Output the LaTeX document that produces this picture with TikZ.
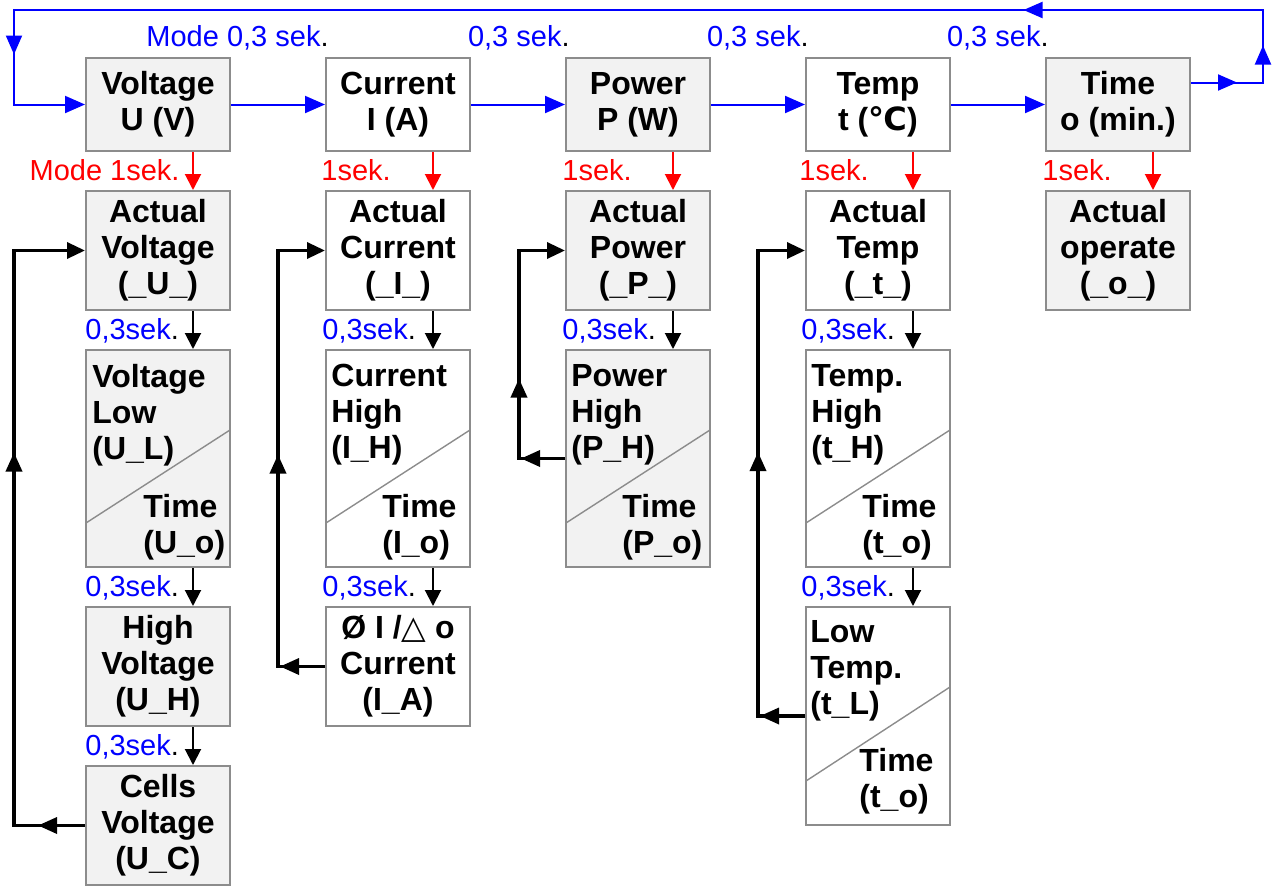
\documentclass[tikz,border=0pt]{standalone}
\usepackage{fontspec}
\setmainfont{Liberation Sans}
\newfontfamily\trifont{DejaVu Sans}
\usetikzlibrary{arrows.meta,positioning,decorations.markings}
\definecolor{boxgray}{HTML}{F2F2F2}
\definecolor{edgegray}{HTML}{8C8C8C}

\begin{document}
\begin{tikzpicture}[x=0.5pt, y=-0.5pt, node distance=19pt and 47pt,
  every node/.style={font=\fontsize{16}{18}\selectfont\bfseries},
  box/.style={draw=edgegray, line width=1pt, align=center, minimum width=72pt, inner sep=2pt},
  grey/.style={fill=boxgray},
  topbox/.style={box, minimum height=46.5pt},
  actbox/.style={box, minimum height=59.5pt},
  splitbox/.style={box, minimum height=#1, path picture={
      \draw[edgegray, line width=0.7pt] ([yshift=22pt]path picture bounding box.south west)
        -- ([yshift=-40pt]path picture bounding box.north east);}},
  splitbox/.default=108.5pt,
  upper/.style={anchor=north west, align=left, inner sep=0pt},
  lbl/.style={font=\fontsize{14.5}{16}\selectfont, inner sep=0pt},
  bluelbl/.style={lbl, text=blue},
  redlbl/.style={lbl, text=red},
  bluearr/.style={blue, line width=1pt, -{Triangle[length=10pt,width=8.5pt]}},
  redarr/.style={red, line width=1pt, -{Triangle[length=8pt,width=8pt]}},
  downarr/.style={black, line width=1pt, -{Triangle[length=8pt,width=8pt]}},
  fb/.style={black, line width=1.7pt, -{Triangle[length=9pt,width=8pt]}},
  tipat/.style={postaction={decorate, decoration={markings,
      mark=at position #1 with {\arrow{Triangle[length=9.5pt,width=8pt]}}}}}]
\useasboundingbox (0,0) rectangle (1276,889);

% top row
\node[topbox, grey] (volt) at (158,104.5) {Voltage\\U (V)};
\node[topbox, right=of volt] (cur) {Current\\I (A)};
\node[topbox, grey, right=of cur] (pow) {Power\\P (W)};
\node[topbox, right=of pow] (temp) {Temp\\t ({\trifont ℃})};
\node[topbox, grey, right=of temp] (time) {Time\\o (min.)};

% actual values
\node[actbox, grey, below=of volt] (actV) {Actual\\Voltage\\(\_U\_)};
\node[actbox, below=of cur] (actI) {Actual\\Current\\(\_I\_)};
\node[actbox, grey, below=of pow] (actP) {Actual\\Power\\(\_P\_)};
\node[actbox, below=of temp] (actT) {Actual\\Temp\\(\_t\_)};
\node[actbox, grey, below=of time] (actO) {Actual\\operate\\(\_o\_)};

% limits
\node[splitbox, grey, below=of actV] (lowV) {};
\node[upper] (lowVa) at ([shift={(7,15)}]lowV.north west) {Voltage\\Low\\(U\_L)};
\node[upper] (lowVb) at ([shift={(58,145)}]lowV.north west) {Time\\(U\_o)};
\node[splitbox, below=of actI] (hiI) {};
\node[upper] (hiIa) at ([shift={(6,15)}]hiI.north west) {Current\\High\\(I\_H)};
\node[upper] (hiIb) at ([shift={(57,145)}]hiI.north west) {Time\\(I\_o)};
\node[splitbox, grey, below=of actP] (hiP) {};
\node[upper] (hiPa) at ([shift={(6,15)}]hiP.north west) {Power\\High\\(P\_H)};
\node[upper] (hiPb) at ([shift={(57,145)}]hiP.north west) {Time\\(P\_o)};
\node[splitbox, below=of actT] (hiT) {};
\node[upper] (hiTa) at ([shift={(6,15)}]hiT.north west) {Temp.\\High\\(t\_H)};
\node[upper] (hiTb) at ([shift={(57,145)}]hiT.north west) {Time\\(t\_o)};

\node[actbox, grey, below=of lowV] (hiV) {High\\Voltage\\(U\_H)};
\node[actbox, grey, below=of hiV] (cellV) {Cells\\Voltage\\(U\_C)};
\node[actbox, below=of hiI] (avgI) {Ø I /{\trifont\mdseries △} o\\Current\\(I\_A)};
\node[splitbox=109pt, below=of hiT] (lowT) {};
\node[upper] (lowTa) at ([shift={(5,14)}]lowT.north west) {Low\\Temp.\\(t\_L)};
\node[upper] (lowTb) at ([shift={(54,142)}]lowT.north west) {Time\\(t\_o)};

% times
\node[bluelbl, anchor=base east] (m1) at ([shift={(4,-11)}]cur.north west) {Mode 0,3 sek\textcolor{black}{.}};
\node[bluelbl, anchor=base east] (m2) at ([shift={(5,-11)}]pow.north west) {0,3 sek\textcolor{black}{.}};
\node[bluelbl, anchor=base east] (m3) at ([shift={(4,-11)}]temp.north west) {0,3 sek\textcolor{black}{.}};
\node[bluelbl, anchor=base east] (m4) at ([shift={(4,-11)}]time.north west) {0,3 sek\textcolor{black}{.}};
\node[redlbl, anchor=base east] (r1) at ([shift={(-51,-10)}]actV.north east) {Mode 1sek.};
\node[redlbl, anchor=base west] (r2) at ([shift={(-4,-10)}]actI.north west) {1sek.};
\node[redlbl, anchor=base west] (r3) at ([shift={(-3,-10)}]actP.north west) {1sek.};
\node[redlbl, anchor=base west] (r4) at ([shift={(-6,-10)}]actT.north west) {1sek.};
\node[redlbl, anchor=base west] (r5) at ([shift={(-3,-10)}]actO.north west) {1sek.};
\node[bluelbl, anchor=base west] (s1) at ([shift={(0,-10)}]lowV.north west) {0,3sek\textcolor{black}{.}};
\node[bluelbl, anchor=base west] (s2) at ([shift={(0,-10)}]hiV.north west) {0,3sek\textcolor{black}{.}};
\node[bluelbl, anchor=base west] (s3) at ([shift={(0,-10)}]cellV.north west) {0,3sek\textcolor{black}{.}};
\node[bluelbl, anchor=base west] (s4) at ([shift={(-3,-10)}]hiI.north west) {0,3sek\textcolor{black}{.}};
\node[bluelbl, anchor=base west] (s5) at ([shift={(-3,-10)}]avgI.north west) {0,3sek\textcolor{black}{.}};
\node[bluelbl, anchor=base west] (s6) at ([shift={(-3,-10)}]hiP.north west) {0,3sek\textcolor{black}{.}};
\node[bluelbl, anchor=base west] (s7) at ([shift={(-4,-10)}]hiT.north west) {0,3sek\textcolor{black}{.}};
\node[bluelbl, anchor=base west] (s8) at ([shift={(-4,-10)}]lowT.north west) {0,3sek\textcolor{black}{.}};

% mode loop
\coordinate (ne) at (1263,10);
\coordinate (nw) at (14,10);
\draw[bluearr] (volt) -- (cur);
\draw[bluearr] (cur) -- (pow);
\draw[bluearr] (pow) -- (temp);
\draw[bluearr] (temp) -- (time);
\draw[bluearr, tipat=23pt, tipat=54.5pt, tipat=192pt, tipat=719pt]
  ([shift={(0,-22)}]time.east) -| (ne) -- (nw) |- (volt.west);

\draw[redarr] ([xshift=17.5pt]volt.south) -- ([xshift=17.5pt]actV.north);
\draw[redarr] ([xshift=17.5pt]cur.south) -- ([xshift=17.5pt]actI.north);
\draw[redarr] ([xshift=17.5pt]pow.south) -- ([xshift=17.5pt]actP.north);
\draw[redarr] ([xshift=17.5pt]temp.south) -- ([xshift=17.5pt]actT.north);
\draw[redarr] ([xshift=17.5pt]time.south) -- ([xshift=17.5pt]actO.north);

\draw[downarr] ([xshift=17.5pt]actV.south) -- ([xshift=17.5pt]lowV.north);
\draw[downarr] ([xshift=17.5pt]lowV.south) -- ([xshift=17.5pt]hiV.north);
\draw[downarr] ([xshift=17.5pt]hiV.south) -- ([xshift=17.5pt]cellV.north);
\draw[downarr] ([xshift=17.5pt]actI.south) -- ([xshift=17.5pt]hiI.north);
\draw[downarr] ([xshift=17.5pt]hiI.south) -- ([xshift=17.5pt]avgI.north);
\draw[downarr] ([xshift=17.5pt]actP.south) -- ([xshift=17.5pt]hiP.north);
\draw[downarr] ([xshift=17.5pt]actT.south) -- ([xshift=17.5pt]hiT.north);
\draw[downarr] ([xshift=17.5pt]hiT.south) -- ([xshift=17.5pt]lowT.north);

% back to actual value
\coordinate (backV) at (14,0);
\coordinate (backI) at (278,0);
\coordinate (backP) at (519,0);
\coordinate (backT) at (758,0);
\draw[fb, tipat=23.5pt, tipat=222pt] (cellV.west) -- (cellV.west -| backV) |- (actV.west);
\draw[fb, tipat=22.5pt, tipat=129.5pt] (avgI.west) -- (avgI.west -| backI) |- (actI.west);
\draw[fb, tipat=22pt, tipat=63pt] (hiP.west) -- (hiP.west -| backP) |- (actP.west);
\draw[fb, tipat=22.5pt, tipat=155.5pt] (lowT.west) -- (lowT.west -| backT) |- (actT.west);
\end{tikzpicture}
\end{document}
